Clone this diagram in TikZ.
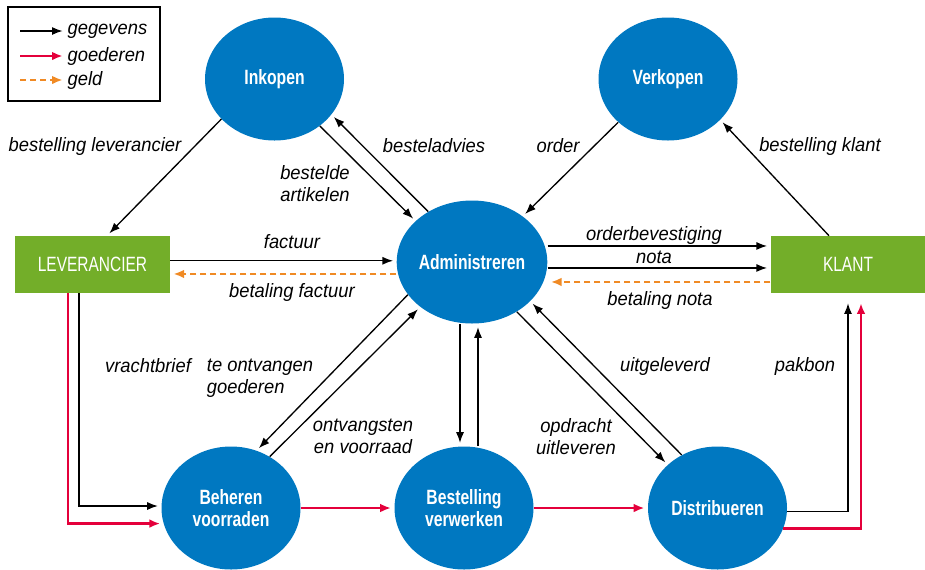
\documentclass[tikz,border=0pt]{standalone}
\usepackage{fontspec}
\setmainfont{Liberation Sans}
\newfontfamily\labelfont[FakeStretch=0.95]{Liberation Sans}
\newfontfamily\procfont[FakeStretch=0.76]{Liberation Sans}
\newfontfamily\partyfont[FakeStretch=0.75]{Liberation Sans}
\usetikzlibrary{arrows.meta,shapes.geometric,calc}
\definecolor{procblue}{HTML}{0078C1}
\definecolor{partygreen}{HTML}{73AE29}
\definecolor{goodsred}{HTML}{E4003B}
\definecolor{moneyorange}{HTML}{F08A24}
\tikzset{
  process/.style={ellipse, fill=procblue, text=white, minimum width=104.25pt, minimum height=92.25pt, inner sep=0pt, align=center, font=\procfont\bfseries\fontsize{15.5}{16.5}\selectfont},
  party/.style={rectangle, fill=partygreen, text=white, minimum width=116pt, minimum height=42.75pt, font=\partyfont\fontsize{15.5}{18}\selectfont},
  lbl/.style={align=center, inner sep=1pt, font=\labelfont\itshape\fontsize{14.5}{16.5}\selectfont},
  dataflow/.style={-{Latex[length=8pt,width=6pt]}, line width=1pt, shorten >=2.5pt},
  goodsflow/.style={-{Latex[length=8pt,width=6.5pt]}, line width=2pt, draw=goodsred, shorten >=2.5pt},
  moneyflow/.style={-{Latex[length=8pt,width=6.5pt]}, line width=2pt, draw=moneyorange, dash pattern=on 4.5pt off 3pt, shorten >=2.5pt}
}
\begin{document}
\begin{tikzpicture}[x=0.75pt, y=-0.75pt]
  \useasboundingbox (0,0) rectangle (925,569);

  % legenda
  \draw[line width=1pt] (8,7) rectangle (160,101);
  \coordinate (lgstart1) at (20,31);
  \coordinate (lgstart2) at (20,56);
  \coordinate (lgstart3) at (20,80);
  \node[lbl, anchor=west] (lgdata) at (66,31) {gegevens};
  \node[lbl, anchor=west] (lggoods) at (66,56) {goederen};
  \node[lbl, anchor=west] (lgmoney) at (66,80) {geld};
  \draw[dataflow] (lgstart1) -- (lgdata.west);
  \draw[goodsflow] (lgstart2) -- (lggoods.west);
  \draw[moneyflow] (lgstart3) -- (lgmoney.west);

  % processen en partijen
  \node[process] (ink) at (274.5,79) {Inkopen};
  \node[process] (ver) at (668,79) {Verkopen};
  \node[process] (adm) at (472,262) {Administreren};
  \node[process] (beh) at (231,508) {Beheren\\voorraden};
  \node[process] (bes) at (464,508) {Bestelling\\verwerken};
  \node[process] (dis) at (717.5,508) {Distribueren};
  \node[party] (lev) at (92.5,264.5) {LEVERANCIER};
  \node[party] (klant) at (848,264.5) {KLANT};

  % gegevens
  \draw[dataflow] (ink.217.8) -- ([xshift=10.9pt]lev.north);
  \draw[dataflow] (ink.-46.5) -- (adm.144.6);
  \draw[dataflow] (adm.131.3) -- (ink.-32.6);
  \draw[dataflow] (ver.221.8) -- (adm.42.7);
  \draw[dataflow] ([xshift=-14.25pt]klant.north) -- (ver.-38.5);
  \draw[dataflow] ([yshift=2.8pt]lev.east) -- ([yshift=2.8pt]lev.east -| adm.west);
  \draw[dataflow] ([yshift=13.9pt]klant.west -| adm.east) -- ([yshift=13.9pt]klant.west);
  \draw[dataflow] ([yshift=-2.6pt]klant.west -| adm.east) -- ([yshift=-2.6pt]klant.west);
  \draw[dataflow] (adm.207.3) -- (beh.66.3);
  \draw[dataflow] (beh.53.8) -- (adm.221.6);
  \draw[dataflow] ([xshift=-9pt]adm.south) -- ([xshift=-9pt]adm.south |- bes.north);
  \draw[dataflow] ([xshift=4.5pt]adm.south |- bes.north) -- ([xshift=4.5pt]adm.south);
  \draw[dataflow] (adm.-48.1) -- (dis.139.4);
  \draw[dataflow] (dis.124.3) -- (adm.-34.3);
  \draw[dataflow] ([xshift=-10.1pt]lev.south) |- ([yshift=1.5pt]beh.west);
  \draw[dataflow, shorten >=7.5pt] (dis.-3) -| (klant.south);

  % goederen
  \draw[goodsflow] ([xshift=-18.4pt]lev.south) |- (beh.193);
  \draw[goodsflow] (beh.east) -- (bes.west);
  \draw[goodsflow] (bes.east) -- (dis.west);
  \draw[goodsflow, shorten >=7.5pt] (dis.-17) -| ([xshift=9.75pt]klant.south);

  % geld
  \draw[moneyflow] ([yshift=-7.1pt]lev.east -| adm.west) -- ([yshift=-7.1pt]lev.east);
  \draw[moneyflow] ([yshift=-13.1pt]klant.west) -- ([yshift=-13.1pt]klant.west -| adm.east);

  % labels
  \node[lbl] (lbestlev) at (95,146) {bestelling leverancier};
  \node[lbl] (lartikel) at (315,184) {bestelde\\artikelen};
  \node[lbl] (ladvies) at (434,146) {besteladvies};
  \node[lbl] (lorder) at (558,146) {order};
  \node[lbl] (lbestkl) at (820,146) {bestelling klant};
  \node[lbl] (lfactuur) at (292,242) {factuur};
  \node[lbl] (lbetfact) at (292,292) {betaling factuur};
  \node[lbl] (lorderbev) at (654,235) {orderbevestiging};
  \node[lbl] (lnota) at (654,257) {nota};
  \node[lbl] (lbetnota) at (660,300) {betaling nota};
  \node[lbl] (lvracht) at (148,366) {vrachtbrief};
  \node[lbl, align=left] (lontv) at (260,378) {te ontvangen\\goederen};
  \node[lbl] (lvoorraad) at (363,436) {ontvangsten\\en voorraad};
  \node[lbl] (lopdracht) at (576,437) {opdracht\\uitleveren};
  \node[lbl] (luitgel) at (665,366) {uitgeleverd};
  \node[lbl] (lpakbon) at (805,366) {pakbon};
\end{tikzpicture}
\end{document}
